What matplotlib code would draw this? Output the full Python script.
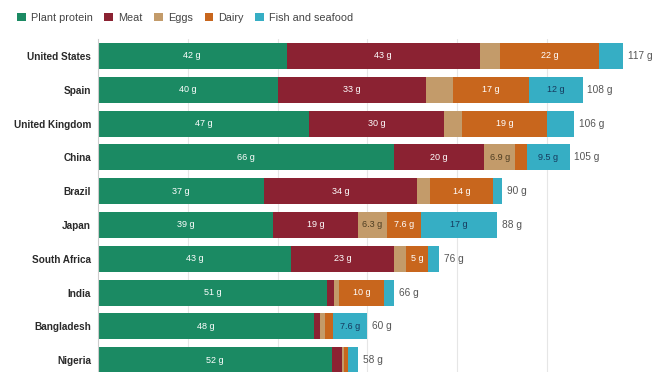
import matplotlib
matplotlib.use("Agg")
import matplotlib.pyplot as plt
from matplotlib.patches import Patch
import numpy as np

plt.rcParams['font.family'] = ['Liberation Sans', 'DejaVu Sans']

countries = ["United States", "Spain", "United Kingdom", "China", "Brazil",
             "Japan", "South Africa", "India", "Bangladesh", "Nigeria"]
series_names = ["Plant protein", "Meat", "Eggs", "Dairy", "Fish and seafood"]

plant = [42, 40, 47, 66, 37, 39, 43, 51, 48, 52]
meat = [43, 33, 30, 20, 34, 19, 23, 1.6, 1.4, 2.3]
eggs = [4.6, 6, 4, 6.9, 3, 6.3, 2.5, 1.1, 1.1, 0.5]
dairy = [22, 17, 19, 2.6, 14, 7.6, 5, 10, 1.9, 0.9]
fish = [5.4, 12, 6, 9.5, 2, 17, 2.5, 2.3, 7.6, 2.3]
totals = [117, 108, 106, 105, 90, 88, 76, 66, 60, 58]

# which segments carry a value label (one row per series)
plant_lab = [1, 1, 1, 1, 1, 1, 1, 1, 1, 1]
meat_lab = [1, 1, 1, 1, 1, 1, 1, 0, 0, 0]
eggs_lab = [0, 0, 0, 1, 0, 1, 0, 0, 0, 0]
dairy_lab = [1, 1, 1, 0, 1, 1, 1, 1, 0, 0]
fish_lab = [0, 1, 0, 1, 0, 1, 0, 0, 1, 0]

colors = ["#1b8a63", "#8b2232", "#c39b6a", "#c8661d", "#36aec4"]
text_colors = ["white", "white", "#4d3d22", "white", "#163a5e"]

data = [plant, meat, eggs, dairy, fish]
flags = [plant_lab, meat_lab, eggs_lab, dairy_lab, fish_lab]

W, H = 660, 372
fig = plt.figure(figsize=(W / 100, H / 100), dpi=100)
ax = fig.add_axes([98 / W, 0, 1 - 98 / W - 0.001, 1 - 39 / H])

y = np.arange(len(countries))
left = np.zeros(len(countries))
for vals, col, tcol, flg in zip(data, colors, text_colors, flags):
    vals = np.array(vals, dtype=float)
    ax.barh(y, vals, left=left, height=0.77, color=col, edgecolor="none", zorder=2)
    for yi, (l, v, f) in enumerate(zip(left, vals, flg)):
        if f:
            ax.text(l + v / 2, yi, f"{v:g} g", ha="center", va="center",
                    color=tcol, fontsize=6.5, zorder=3)
    left += vals

for yi, (end, t) in enumerate(zip(left, totals)):
    ax.text(end + 1.0, yi, f"{t} g", ha="left", va="center",
            color="#555555", fontsize=7.3, zorder=3)

ax.set_xlim(0, 125)
ax.set_ylim(9.35, -0.5)
ax.set_xticks([20, 40, 60, 80, 100])
ax.xaxis.grid(True, color="#e6e6e6", linewidth=0.8, zorder=0)
ax.tick_params(axis="x", length=0, labelbottom=False)
ax.set_yticks(y)
ax.set_yticklabels(countries, fontsize=7.2, fontweight="bold", color="#2a2a2a")
ax.tick_params(axis="y", length=0, pad=5)
for s in ["top", "right", "bottom"]:
    ax.spines[s].set_visible(False)
ax.spines["left"].set_color("#cccccc")
ax.spines["left"].set_linewidth(0.8)

handles = [Patch(facecolor=c, edgecolor="none") for c in colors]
fig.legend(handles, series_names, loc="center left",
           bbox_to_anchor=(17 / W, 1 - 18 / H),
           ncol=5, frameon=False, fontsize=7.8, handlelength=0.8,
           handleheight=0.8, handletextpad=0.45, columnspacing=1.1,
           labelcolor="#444444", borderaxespad=0, borderpad=0)

fig.savefig("out.png", dpi=100)
